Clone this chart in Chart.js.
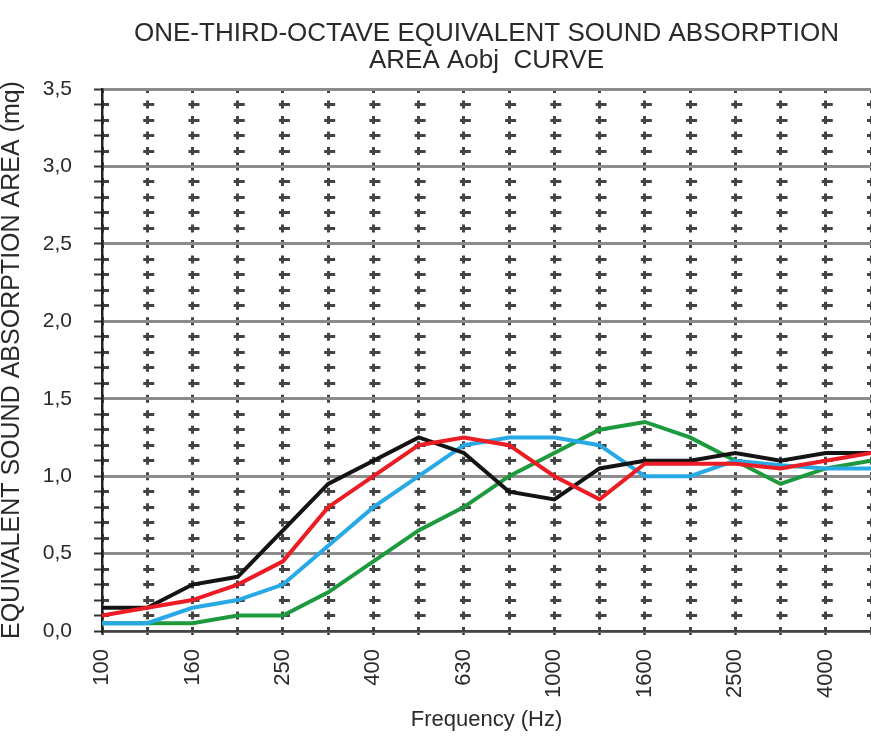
<!DOCTYPE html>
<html>
<head>
<meta charset="utf-8">
<title>Aobj curve</title>
<script src="https://cdn.jsdelivr.net/npm/chart.js@4.4.1/dist/chart.umd.min.js"></script>
<style>
  html, body { margin: 0; padding: 0; background: #fff; }
  #wrap { width: 871px; height: 741px; }
</style>
</head>
<body>
<div id="wrap"><canvas id="aobjChart"></canvas></div>
<script>
// one-third-octave bands (Hz)
const frequencies = ["100", "125", "160", "200", "250", "315", "400", "500", "630",
  "800", "1000", "1250", "1600", "2000", "2500", "3150", "4000", "5000"];

// equivalent sound absorption area, mq
const curveRed = [0.10, 0.15, 0.20, 0.30, 0.45, 0.80, 1.00, 1.20, 1.25,
  1.20, 1.00, 0.85, 1.08, 1.08, 1.08, 1.05, 1.10, 1.15];
const curveBlack = [0.15, 0.15, 0.30, 0.35, 0.65, 0.95, 1.10, 1.25, 1.15,
  0.90, 0.85, 1.05, 1.10, 1.10, 1.15, 1.10, 1.15, 1.15];
const curveBlue = [0.05, 0.05, 0.15, 0.20, 0.30, 0.55, 0.80, 1.00, 1.20,
  1.25, 1.25, 1.20, 1.00, 1.00, 1.10, 1.07, 1.05, 1.05];
const curveGreen = [0.05, 0.05, 0.05, 0.10, 0.10, 0.25, 0.45, 0.65, 0.80,
  1.00, 1.15, 1.30, 1.35, 1.25, 1.10, 0.95, 1.05, 1.10];

const yMax = 3.5;
const yStep = 0.1;

const FONT = "'Liberation Sans', Arial, sans-serif";

function isMajor(v) {
  return Math.abs(v * 2 - Math.round(v * 2)) < 1e-6;
}

function line(data, color) {
  return {
    data: data,
    borderColor: color,
    backgroundColor: color,
    borderWidth: 4,
    pointRadius: 0,
    tension: 0,
    fill: false,
  };
}

const ctx = document.getElementById("aobjChart").getContext("2d");
new Chart(ctx, {
  type: "line",
  data: {
    labels: frequencies,
    // first dataset is painted last (on top)
    datasets: [
      line(curveRed, "#ec1c24"),
      line(curveBlack, "#141414"),
      line(curveBlue, "#27a9e6"),
      line(curveGreen, "#1d9a3d"),
    ],
  },
  options: {
    responsive: true,
    maintainAspectRatio: false,
    animation: false,
    plugins: {
      legend: { display: false },
      tooltip: { enabled: false },
      title: {
        display: true,
        fullSize: false,
        text: ["ONE-THIRD-OCTAVE EQUIVALENT SOUND ABSORPTION", "AREA Aobj  CURVE"],
        color: "#2a2a2a",
        font: { family: FONT, size: 26, weight: "normal", lineHeight: 1.04 },
        padding: { top: 20, bottom: 15 },
      },
    },
    scales: {
      x: {
        offset: false,
        afterFit: (scale) => {
          scale.height = 110;
          scale.paddingLeft = 0;
          scale.paddingRight = 0;
        },
        ticks: {
          autoSkip: false,
          minRotation: 90,
          maxRotation: 90,
          padding: 14,
          color: "#2a2a2a",
          font: { family: FONT, size: 22 },
          callback: function (value, index) {
            return index % 2 === 0 ? this.getLabelForValue(value) : "";
          },
        },
        grid: {
          color: "#444",
          lineWidth: 3,
          tickLength: 4,
          tickColor: "#333",
          tickWidth: 2.5,
        },
        border: {
          display: true,
          color: "#444",
          width: 2.5,
          dash: (c) => {
            const ys = c.chart.scales.y;
            const step = ys.getPixelForValue(0) - ys.getPixelForValue(yStep);
            return [8, step - 8];
          },
          dashOffset: 4,
        },
        title: {
          display: true,
          text: "Frequency (Hz)",
          color: "#2a2a2a",
          font: { family: FONT, size: 22, lineHeight: 1.2 },
          padding: { top: 0, bottom: 8 },
        },
      },
      y: {
        min: 0,
        max: yMax,
        afterFit: (scale) => {
          scale.width = 102;
          scale.paddingTop = 0;
          scale.paddingBottom = 0;
        },
        ticks: {
          stepSize: yStep,
          autoSkip: false,
          padding: 22,
          color: "#2a2a2a",
          font: { family: FONT, size: 21 },
          callback: (v) => (isMajor(v) ? v.toFixed(1).replace(".", ",") : ""),
        },
        grid: {
          color: (c) => (isMajor(c.tick.value) ? "#8c8c8c" : "#444"),
          lineWidth: (c) => (isMajor(c.tick.value) ? 3 : 3),
          tickLength: 8,
          tickColor: "#333",
          tickWidth: 2,
        },
        border: {
          display: true,
          color: "#222",
          width: 2.5,
          dash: (c) => {
            if (!c.tick || isMajor(c.tick.value)) return [];
            const xs = c.chart.scales.x;
            const step = xs.getPixelForTick(1) - xs.getPixelForTick(0);
            return [11, step - 11];
          },
          dashOffset: 5.5,
        },
        title: {
          display: true,
          text: "EQUIVALENT SOUND ABSORPTION AREA (mq)",
          color: "#2a2a2a",
          font: { family: FONT, size: 25, lineHeight: 1 },
          padding: { top: 0, bottom: 0 },
        },
      },
    },
  },
});
</script>
</body>
</html>
